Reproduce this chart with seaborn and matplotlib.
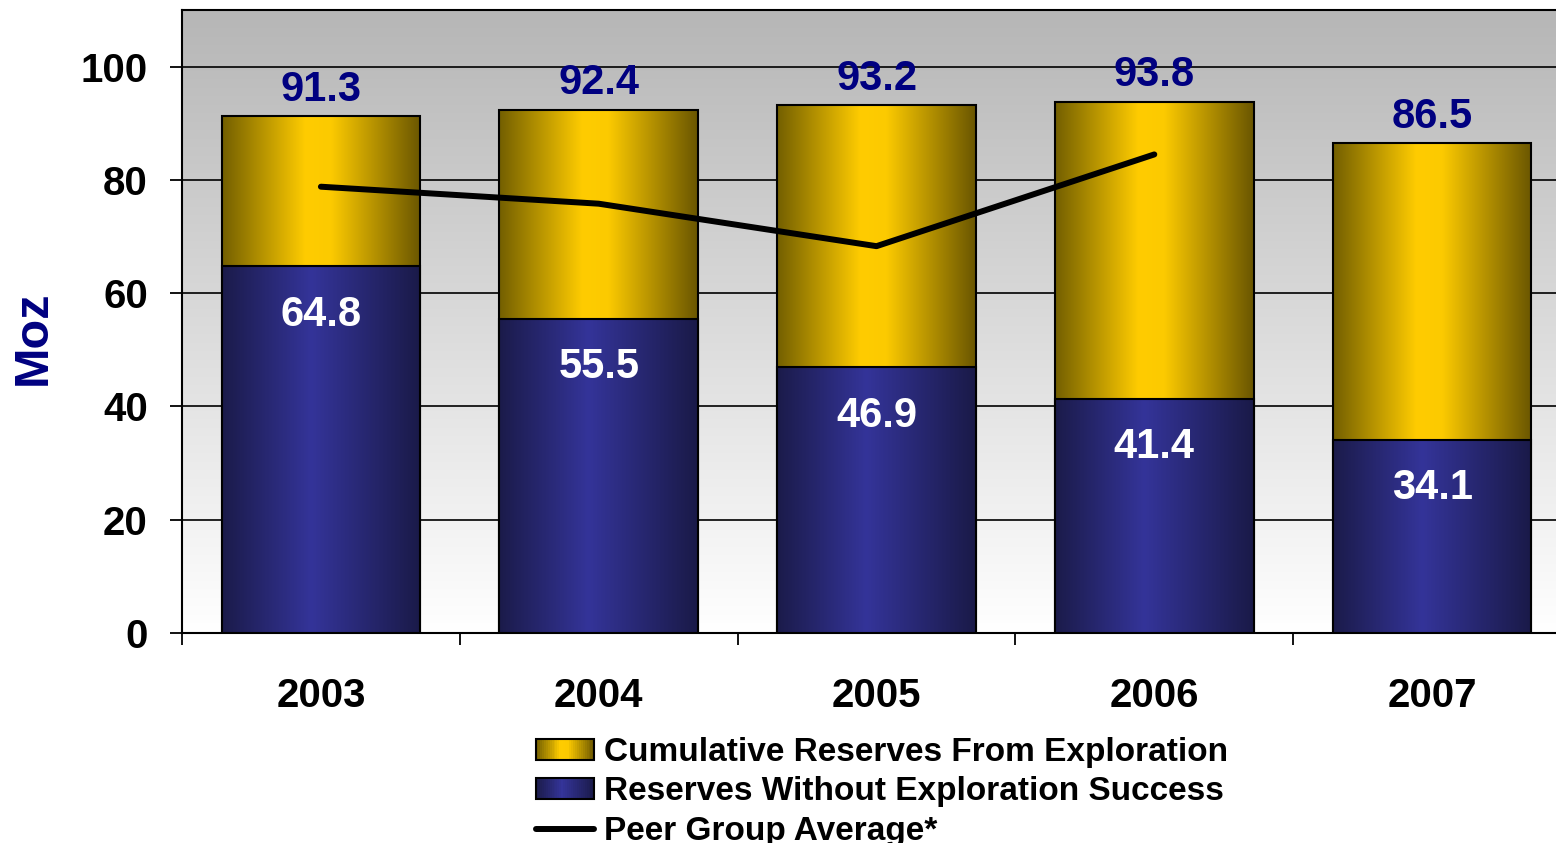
import numpy as np
import matplotlib
matplotlib.use('Agg')
import matplotlib.pyplot as plt
import seaborn as sns
from matplotlib.colors import LinearSegmentedColormap
from matplotlib.patches import Rectangle
from matplotlib.lines import Line2D
from matplotlib.legend_handler import HandlerBase

# --
# Data

years = ['2003', '2004', '2005', '2006', '2007']
total_reserves = [91.3, 92.4, 93.2, 93.8, 86.5]
without_expl = [64.8, 55.5, 46.9, 41.4, 34.1]
peer_avg = [78.8, 75.8, 68.3, 84.5]

labels = ['Cumulative Reserves From Exploration',
          'Reserves Without Exploration Success',
          'Peer Group Average*']

# --
# Style

sns.set_theme(style='white', rc={'axes.edgecolor': 'black', 'xtick.color': 'black',
                                 'ytick.color': 'black', 'text.color': 'black',
                                 'axes.labelcolor': 'black'})
plt.rcParams['font.family'] = ['Liberation Sans', 'DejaVu Sans']
plt.rcParams['font.weight'] = 'bold'

gold = LinearSegmentedColormap.from_list(
    'gold', [(0, '#735f00'), (0.42, '#ffcc00'), (0.55, '#fcca00'), (1, '#6a5600')])
navy = LinearSegmentedColormap.from_list(
    'navy', [(0, '#1b1b4a'), (0.45, '#343499'), (1, '#1a1a48')])
bg = LinearSegmentedColormap.from_list('bg', ['#ffffff', '#b6b6b6'])

fig = plt.figure(figsize=(15.56, 8.43), dpi=100)
# axes runs slightly past the right edge, as in the cropped original
ax = fig.add_axes([182 / 1556, 1 - 633 / 843, (1571 - 182) / 1556, (633 - 10) / 843])

# background gradient
ax.imshow(np.linspace(0, 1, 256).reshape(-1, 1), cmap=bg, extent=[0, 1, 0, 1],
          transform=ax.transAxes, aspect='auto', origin='lower', zorder=0)

# --
# Stacked bars

sns.barplot(x=years, y=total_reserves, color='#ffcc00', width=0.715,
            errorbar=None, ax=ax, zorder=2)
n_gold = len(ax.patches)
sns.barplot(x=years, y=without_expl, color='#333399', width=0.715,
            errorbar=None, ax=ax, zorder=3)

grad = np.linspace(0, 1, 256).reshape(1, -1)
for i, p in enumerate(list(ax.patches)):
    cm = gold if i < n_gold else navy
    z = 2 if i < n_gold else 3
    x0, w, h = p.get_x(), p.get_width(), p.get_height()
    ax.imshow(grad, cmap=cm, extent=[x0, x0 + w, 0, h], aspect='auto', zorder=z + 0.1)
    p.set_facecolor('none')
    p.set_edgecolor('black')
    p.set_linewidth(1.5)
    p.set_zorder(z + 0.2)

# peer line
sns.lineplot(x=np.arange(len(peer_avg)), y=peer_avg, color='black', lw=4.3,
             ax=ax, zorder=5, solid_capstyle='round')

# value labels
for i, (t, b) in enumerate(zip(total_reserves, without_expl)):
    ax.annotate(f'{t:.1f}', (i, t), xytext=(0, 19), textcoords='offset points',
                ha='center', va='center', color='#000080', fontsize=30,
                fontweight='bold', zorder=6)
    ax.annotate(f'{b:.1f}', (i, b), xytext=(0, -35), textcoords='offset points',
                ha='center', va='center', color='white', fontsize=30,
                fontweight='bold', zorder=6)

# --
# Axes

ax.set_xlim(-0.5, 4.5)
ax.set_ylim(0, 110)
ax.set_yticks(range(0, 101, 20))
ax.yaxis.grid(True, color='black', lw=1.2)
ax.set_axisbelow(True)
ax.set_xlabel('')
ax.set_ylabel('')
ax.set_xticks(np.arange(-0.5, 5, 1), minor=True)
ax.tick_params(axis='y', left=True, direction='out', length=8.6, width=1.3,
               pad=16, labelsize=29)
ax.tick_params(axis='x', which='major', bottom=True, length=0, pad=32, labelsize=29)
ax.tick_params(axis='x', which='minor', bottom=True, direction='out', length=8.6, width=1.3)
for s in ['left', 'bottom', 'top']:
    ax.spines[s].set_color('black')
    ax.spines[s].set_linewidth(1.5)
ax.spines['right'].set_visible(False)

fig.text(33 / 1556, 1 - 338 / 843, 'Moz', rotation=90, ha='center', va='center',
         color='#000080', fontsize=35, fontweight='bold')


# --
# Legend with gradient swatches

class GradHandler(HandlerBase):
    def __init__(self, cmap):
        super().__init__()
        self.cmap = cmap

    def create_artists(self, legend, orig_handle, xdescent, ydescent, width, height,
                       fontsize, trans):
        n = 30
        arts = []
        for k in range(n):
            arts.append(Rectangle((-xdescent + width * k / n, -ydescent), width / n, height,
                                  facecolor=self.cmap((k + 0.5) / n), edgecolor='none',
                                  transform=trans))
        arts.append(Rectangle((-xdescent, -ydescent), width, height, facecolor='none',
                              edgecolor='black', lw=1.5, transform=trans))
        return arts


h_gold = Rectangle((0, 0), 1, 1)
h_navy = Rectangle((0, 0), 1, 1)
h_line = Line2D([], [], color='black', lw=4.3)
fig.legend(handles=[h_gold, h_navy, h_line], labels=labels, loc='upper left',
           bbox_to_anchor=(536 / 1556, 1 - 737 / 843), frameon=False, fontsize=24,
           handlelength=1.75, handleheight=0.6, handletextpad=0.3, labelspacing=0.25,
           borderpad=0, borderaxespad=0,
           handler_map={h_gold: GradHandler(gold), h_navy: GradHandler(navy)})

fig.savefig('out.png', dpi=100)
